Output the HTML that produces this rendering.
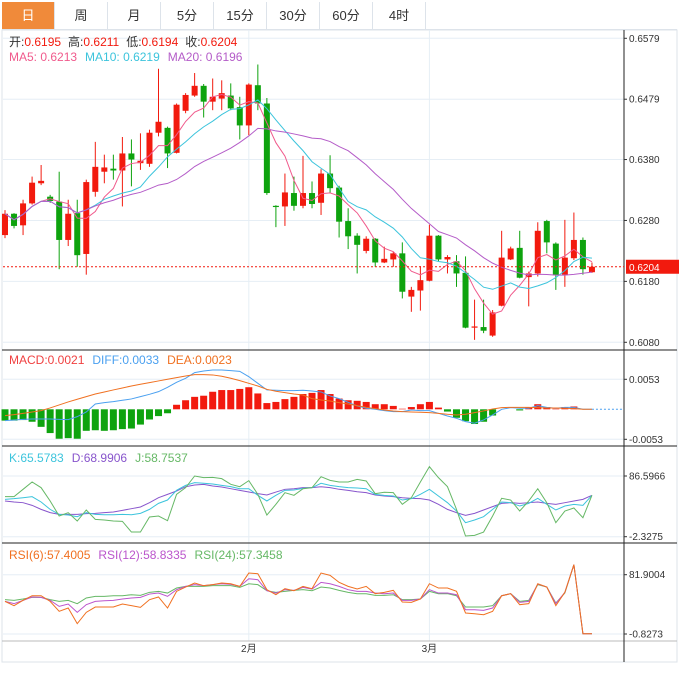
<!DOCTYPE html>
<html><head><meta charset="utf-8">
<style>
html,body{margin:0;padding:0;background:#fff;}
body{width:679px;height:675px;overflow:hidden;position:relative;font-family:"Liberation Sans","Noto Sans CJK SC",sans-serif;}
.tabs{position:absolute;left:2px;top:2px;height:27px;width:675px;border-bottom:1px solid #dde3ea;}
.tab{position:absolute;top:0;height:27px;width:52px;border-right:1px solid #dde3ea;font-size:13px;line-height:27px;text-align:center;color:#333;}
.tab.on{background:#f08a3a;color:#fff;}
svg{position:absolute;left:0;top:0;}
</style></head><body>
<div class="tabs">
<div class="tab on" style="left:0">日</div>
<div class="tab" style="left:53px">周</div>
<div class="tab" style="left:106px">月</div>
<div class="tab" style="left:159px">5分</div>
<div class="tab" style="left:212px">15分</div>
<div class="tab" style="left:265px">30分</div>
<div class="tab" style="left:318px">60分</div>
<div class="tab" style="left:371px">4时</div>
</div>
<svg id="chart" width="679" height="675"></svg>
<script>
const opens=[0.6256,0.6291,0.6272,0.6308,0.6341,0.6319,0.6311,0.6248,0.6292,0.6225,0.6327,0.6360,0.6365,0.6362,0.6390,0.6374,0.6373,0.6424,0.6432,0.6391,0.6460,0.6485,0.6501,0.6475,0.6480,0.6485,0.6466,0.6436,0.6502,0.6472,0.6304,0.6303,0.6325,0.6304,0.6325,0.6309,0.6357,0.6334,0.6279,0.6255,0.6230,0.6250,0.6211,0.6216,0.6226,0.6155,0.6165,0.6181,0.6255,0.6216,0.6213,0.6194,0.6104,0.6105,0.6091,0.6140,0.6216,0.6235,0.6187,0.6193,0.6279,0.6242,0.6191,0.6218,0.6248,0.6195];
const closes=[0.6291,0.6271,0.6308,0.6342,0.6345,0.6312,0.6248,0.6291,0.6223,0.6343,0.6368,0.6367,0.6362,0.6390,0.6380,0.6378,0.6424,0.6442,0.6390,0.6470,0.6486,0.6501,0.6475,0.6483,0.6489,0.6464,0.6436,0.6503,0.6472,0.6325,0.6302,0.6326,0.6304,0.6325,0.6307,0.6357,0.6333,0.6278,0.6254,0.6240,0.6250,0.6211,0.6217,0.6226,0.6163,0.6166,0.6182,0.6255,0.6216,0.6220,0.6193,0.6104,0.6106,0.6099,0.6129,0.6219,0.6234,0.6186,0.6193,0.6263,0.6244,0.6190,0.6219,0.6248,0.6200,0.6204];
const highs=[0.6297,0.6292,0.6314,0.6352,0.6371,0.6322,0.6360,0.6314,0.6314,0.6347,0.6409,0.6388,0.6388,0.6417,0.6413,0.6423,0.6429,0.6529,0.6434,0.6472,0.6489,0.6522,0.6504,0.6513,0.6510,0.6505,0.6483,0.6505,0.6536,0.6481,0.6305,0.6357,0.6352,0.6386,0.6344,0.6364,0.6387,0.6337,0.6300,0.6259,0.6254,0.6251,0.6237,0.6229,0.6244,0.6171,0.6205,0.6273,0.6256,0.6223,0.6223,0.6221,0.6150,0.6150,0.6133,0.6263,0.6237,0.6263,0.6196,0.6277,0.6281,0.6244,0.6281,0.6293,0.6252,0.6211];
const lows=[0.6251,0.6267,0.6256,0.6306,0.6338,0.6309,0.6200,0.6238,0.6204,0.6191,0.6319,0.6341,0.6347,0.6303,0.6336,0.6363,0.6368,0.6418,0.6366,0.6390,0.6456,0.6483,0.6449,0.6461,0.6461,0.6461,0.6413,0.6420,0.6461,0.6322,0.6269,0.6271,0.6296,0.6300,0.6300,0.6289,0.6325,0.6252,0.6233,0.6193,0.6226,0.6204,0.6210,0.6204,0.6152,0.6130,0.6132,0.6180,0.6213,0.6193,0.6171,0.6103,0.6084,0.6095,0.6089,0.6139,0.6215,0.6185,0.6139,0.6188,0.6226,0.6166,0.6171,0.6215,0.6191,0.6194];
// MACD values in units of 0.0001
const macdHist=[-20,-20,-19,-22,-31,-42,-52,-51,-52,-38,-37,-38,-37,-35,-34,-27,-18,-12,-7,8,16,22,24,31,34,34,36,39,28,11,13,18,22,27,29,34,27,19,16,15,13,9,9,6,1,4,9,13,3,-4,-15,-21,-26,-22,-11,0,0,-2,4,9,4,1,4,5,0,0];
const diffVals=[-20.0,-18.8,-17.7,-17.1,-17.1,-17.1,-17.7,-18.3,-13.0,-4.7,9.4,11.8,13.5,15.9,18.3,22.4,26.5,31.2,38.9,47.7,54.8,64.8,67.7,69.5,69.5,68.3,67.1,57.7,45.9,34.2,33.6,33.0,33.0,33.6,32.4,30.6,23.6,18.8,12.4,5.9,1.8,0,-2.4,-4.1,-4.1,-1.2,-2.4,-2.4,-7.1,-11.8,-15.9,-21.8,-24.7,-18.8,-10.0,0,2.9,1.8,1.8,6.5,3.5,1.8,3.5,3.5,0,0];
const deaVals=[-11.2,-9.4,-7.1,-4.7,-2.4,2.4,7.7,13.0,17.7,22.4,27.1,30.6,34.2,37.7,41.2,44.2,47.1,50.1,53.0,56.0,58.9,61.3,61.3,60.7,58.3,54.8,50.7,45.9,41.2,35.3,31.8,29.5,27.1,25.3,18.8,16.5,14.7,11.8,9.4,6.5,3.5,1.2,-1.2,-2.9,-4.1,-4.7,-5.3,-5.9,-7.1,-8.8,-10.0,-8.8,-5.9,-2.9,0.6,2.9,3.5,3.5,3.5,2.9,2.4,2.4,1.8,1.2,0,0];
const kVals=[52.4,53.4,54.8,56.3,48.5,37.7,30.4,29.4,27.0,32.9,30.4,29.9,29.9,30.4,29.9,31.9,37.7,46.5,51.4,65.6,72.9,76.8,75.9,74.9,72.9,71.0,68.0,68.0,58.3,50.0,58.3,65.6,66.1,68.5,69.5,75.9,72.9,71.0,69.5,69.0,68.0,59.7,58.3,57.3,51.4,53.4,59.7,67.1,57.3,47.5,35.3,18.2,22.1,27.0,37.7,48.5,47.5,42.6,46.5,53.9,45.1,36.8,42.6,45.1,43.6,58.3];
const dVals=[50.0,48.5,47.5,43.6,37.7,32.9,30.4,30.4,30.4,31.4,31.9,32.9,33.8,36.3,38.7,41.2,47.5,54.8,59.7,64.6,70.9,73.4,74.4,71.9,70.5,68.0,65.6,63.1,60.7,58.8,63.1,67.1,68.0,69.5,69.5,70.9,69.5,67.1,65.6,63.6,62.2,58.8,57.3,56.3,54.8,53.9,53.4,51.4,45.1,37.7,32.9,29.0,31.9,36.8,41.7,46.5,47.5,46.5,47.5,48.5,46.5,45.1,47.5,50.0,52.4,58.3];
const jVals=[56.3,56.3,67.1,77.8,69.5,50.0,28.0,32.9,20.6,36.8,23.1,22.1,20.6,20.2,4.5,4.5,26.5,28.0,21.1,59.7,69.5,86.6,84.2,84.6,82.7,74.4,70.9,79.8,59.7,29.4,45.1,62.2,58.3,68.0,69.5,85.6,80.2,77.8,77.8,81.7,79.3,60.7,62.7,62.2,45.1,54.8,77.8,100.3,84.2,71.0,37.7,-1.3,-0.4,4.5,28.0,53.9,51.4,35.3,50.0,68.0,47.5,18.2,35.3,39.7,25.5,58.3];
const rsi6Vals=[44.7,38.7,46.1,52.6,52.6,44.7,30.8,35.4,13.6,29.4,36.8,36.8,36.8,41.0,38.7,36.3,47.1,50.8,35.4,58.7,64.7,70.3,66.6,68.0,70.3,69.3,65.6,84.2,83.3,61.0,54.0,62.4,59.6,65.6,62.4,84.2,81.0,71.2,65.6,61.9,65.6,55.4,57.3,60.1,43.8,43.3,48.0,69.3,63.3,63.3,58.7,28.5,27.5,26.1,30.8,52.6,55.4,40.1,41.5,69.3,64.7,38.7,57.3,95.9,-0.4,-0.4];
const rsi12Vals=[44.7,41.5,46.1,50.8,50.3,46.1,37.7,41.0,29.4,40.1,44.7,45.6,46.1,48.0,49.4,50.3,54.9,56.3,51.7,61.0,65.6,68.0,66.6,68.0,69.3,68.4,65.6,76.3,74.9,59.6,56.3,61.0,60.1,64.2,61.9,71.2,69.3,65.6,61.0,58.7,58.7,56.3,55.4,56.3,46.1,46.1,48.0,61.0,56.3,56.3,54.0,33.0,33.0,32.2,35.4,52.6,55.4,43.3,44.7,68.9,64.7,41.5,57.3,95.9,-0.4,-0.4];
const rsi24Vals=[47.1,46.1,48.0,50.3,50.3,47.1,44.7,46.1,41.5,49.4,51.7,51.7,52.6,52.6,54.0,53.1,57.3,58.7,56.3,63.3,65.6,65.6,65.6,66.6,66.6,66.6,64.2,69.3,68.0,59.6,57.3,58.7,60.1,61.0,59.6,64.7,63.3,60.1,57.3,55.4,55.4,53.1,53.1,54.0,47.1,47.1,48.0,58.7,55.4,55.4,52.6,36.8,36.8,36.8,38.7,52.6,55.4,44.7,46.1,68.0,64.7,42.4,56.3,95.9,-0.4,-0.4];
const priceTicks=[0.6579,0.6479,0.6380,0.6280,0.6180,0.6080];
const macdTicks=[0.0053,-0.0053];
const kdjTicks=[86.5966,-2.3275];
const rsiTicks=[81.9004,-0.8273];
const monthLabels=["2月","3月"];
const monthIdx=[27,47];

const NS="http://www.w3.org/2000/svg";
const svg=document.getElementById('chart');
function el(tag,attrs,parent){const e=document.createElementNS(NS,tag);for(const k in attrs)e.setAttribute(k,attrs[k]);(parent||svg).appendChild(e);return e;}
const X0=5,DX=9.03,AX=624;
const xOf=i=>X0+i*DX;
const pY=p=>38.3+(0.6579-p)*6092;
const mY=v=>409.3-v*(30/0.0053);
const mYu=u=>mY(u*0.0001);
const kY=v=>Math.max(448,Math.min(542,476+(86.5966-v)*(60.7/88.924)));
const rY=v=>Math.max(545,Math.min(640,634-(v+0.8273)*(59.3/82.7277)));
const n=closes.length;

function ma(N){return closes.map((c,i)=>{const s=closes.slice(Math.max(0,i-N+1),i+1);return s.reduce((a,b)=>a+b,0)/s.length;});}
const ma5=ma(5),ma10=ma(10),ma20=ma(20);

el('rect',{x:2,y:30,width:675,height:632,fill:'none',stroke:'#dde3ea'});
const g0=el('g',{});
priceTicks.forEach(t=>el('line',{x1:3,x2:AX,y1:pY(t),y2:pY(t),stroke:'#e6eef5'},g0));
macdTicks.forEach(t=>el('line',{x1:3,x2:AX,y1:mY(t),y2:mY(t),stroke:'#e6eef5'},g0));
kdjTicks.forEach(t=>el('line',{x1:3,x2:AX,y1:kY(t),y2:kY(t),stroke:'#e6eef5'},g0));
rsiTicks.forEach(t=>el('line',{x1:3,x2:AX,y1:rY(t),y2:rY(t),stroke:'#e6eef5'},g0));
monthIdx.forEach(i=>el('line',{x1:xOf(i),x2:xOf(i),y1:30,y2:641,stroke:'#e6eef5'},g0));
[350,446,543].forEach(y=>el('line',{x1:2,x2:677,y1:y,y2:y,stroke:'#222','stroke-width':1}));
el('line',{x1:2,x2:677,y1:641,y2:641,stroke:'#bbb'});
el('line',{x1:AX,x2:AX,y1:30,y2:662,stroke:'#222'});
function axisLabel(y,txt,name){el('line',{x1:AX,x2:AX+3,y1:y,y2:y,stroke:'#333'});const t=el('text',{x:AX+5,y:y+3.5,'font-size':'10',fill:'#333'});t.textContent=txt;}
priceTicks.forEach(t=>axisLabel(pY(t),t.toFixed(4),'price-tick'));
macdTicks.forEach(t=>axisLabel(mY(t),t.toFixed(4),'macd-tick'));
kdjTicks.forEach(t=>axisLabel(kY(t),t.toFixed(4),'kdj-tick'));
rsiTicks.forEach(t=>axisLabel(rY(t),t.toFixed(4),'rsi-tick'));
monthIdx.forEach((i,k)=>{const t=el('text',{x:xOf(i),y:652,'font-size':'10','text-anchor':'middle',fill:'#333'});t.textContent=monthLabels[k];});

const gc=el('g',{});
for(let i=0;i<n;i++){const up=closes[i]>=opens[i];const col=up?'#f21a0e':'#0ea30e';const x=xOf(i);
 el('line',{x1:x,x2:x,y1:pY(highs[i]),y2:pY(lows[i]),stroke:col},gc);
 const top=pY(Math.max(opens[i],closes[i])),bot=pY(Math.min(opens[i],closes[i]));
 const b=el('rect',{x:x-3,y:top,width:6,height:Math.max(1,bot-top),fill:col},gc);
 
 }
function line(arr,fy,col,name,w){const p=el('polyline',{points:arr.map((v,i)=>xOf(i)+','+fy(v)).join(' '),fill:'none',stroke:col,'stroke-width':w||1});}
line(ma5,pY,'#f05a8c','ma5-line');line(ma10,pY,'#3cc4dc','ma10-line');line(ma20,pY,'#b45cc8','ma20-line');
const last=closes[n-1];
el('line',{x1:3,x2:AX,y1:pY(last),y2:pY(last),stroke:'#f21a0e','stroke-dasharray':'2,2'});
el('rect',{x:626,y:pY(last)-7,width:53,height:14,fill:'#f21a0e'});
const cp=el('text',{x:629,y:pY(last)+4,'font-size':'10',fill:'#fff'});cp.textContent=last.toFixed(4);



const gm=el('g',{});
macdHist.forEach((v,i)=>{if(v===0)return;const y0=mYu(0),y1=mYu(v);const r=el('rect',{x:xOf(i)-3.5,y:Math.min(y0,y1),width:7,height:Math.max(0.5,Math.abs(y1-y0)),fill:v>=0?'#f21a0e':'#0ea30e'},gm);
 
 });
el('line',{x1:xOf(n-1),x2:AX,y1:mYu(0),y2:mYu(0),stroke:'#4aa0f0','stroke-dasharray':'2,2'});
line(diffVals,mYu,'#4aa0f0','diff-line');line(deaVals,mYu,'#f07020','dea-line');
line(dVals,kY,'#8855cc','d-line');line(kVals,kY,'#3cc4dc','k-line');line(jVals,kY,'#66b866','j-line');
line(rsi24Vals,rY,'#66b866','rsi24-line');line(rsi12Vals,rY,'#bb55cc','rsi12-line');line(rsi6Vals,rY,'#f07020','rsi6-line');

function legend(y,parts,name){const t=el('text',{x:9,y:y,'font-size':'12'});parts.forEach(([s,c,gap])=>{const ts=el('tspan',{fill:c},t);if(gap)ts.setAttribute('dx',gap);ts.textContent=s;});}
legend(46,[['开:','#333'],['0.6195','#f21a0e'],['高:','#333',7],['0.6211','#f21a0e'],['低:','#333',7],['0.6194','#f21a0e'],['收:','#333',7],['0.6204','#f21a0e']],'ohlc-legend');
legend(61,[['MA5: 0.6213','#f05a8c'],['MA10: 0.6219','#3cc4dc',8],['MA20: 0.6196','#b45cc8',8]],'ma-legend');
legend(364,[['MACD:0.0021','#f04040'],['DIFF:0.0033','#4aa0f0',8],['DEA:0.0023','#f07020',8]],'macd-legend');
legend(462,[['K:65.5783','#3cc4dc'],['D:68.9906','#8855cc',8],['J:58.7537','#66b866',8]],'kdj-legend');
legend(559,[['RSI(6):57.4005','#f07020'],['RSI(12):58.8335','#bb55cc',8],['RSI(24):57.3458','#66b866',8]],'rsi-legend');
</script>
</body></html>
